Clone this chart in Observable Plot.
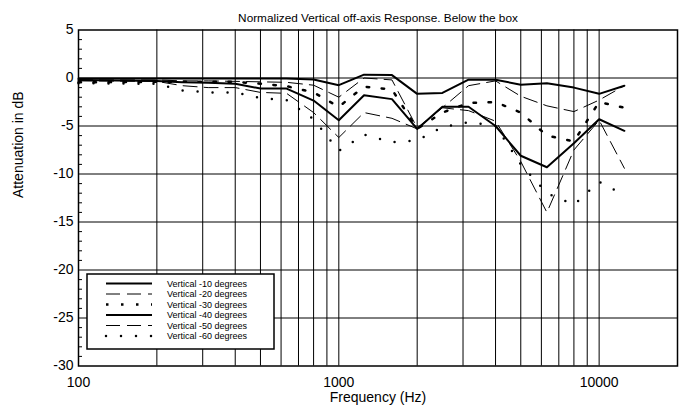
<!DOCTYPE html>
<html><head><meta charset="utf-8">
<script src="https://cdn.jsdelivr.net/npm/d3@7"></script>
<script src="https://cdn.jsdelivr.net/npm/@observablehq/plot@0.6"></script>
<style>
body{margin:0;background:#fff;}
#chart svg{display:block;font-family:"Liberation Sans",Arial,Helvetica,sans-serif;}
</style>
</head><body><div id="chart"></div>
<script>
const titleText = "Normalized Vertical off-axis Response. Below the box";
const xLabel = "Frequency (Hz)";
const yLabel = "Attenuation in dB";
const freqs = [100, 200, 250, 315, 400, 500, 630, 800, 1000, 1250, 1600, 2000, 2500, 3150, 4000, 5000, 6300, 8000, 10000, 12500];
const seriesNames = ["Vertical -10 degrees", "Vertical -20 degrees", "Vertical -30 degrees", "Vertical -40 degrees", "Vertical -50 degrees", "Vertical -60 degrees"];
const v10 = [-0.05, -0.05, -0.05, -0.05, -0.05, -0.05, -0.05, -0.15, -0.75, 0.35, 0.3, -1.65, -1.55, -0.18, -0.18, -0.7, -0.55, -1.0, -1.65, -0.8];
const v20 = [-0.2, -0.2, -0.3, -0.3, -0.35, -0.4, -0.45, -0.75, -2.0, 0.0, -0.2, -5.2, -3.1, -0.8, -0.3, -1.9, -2.9, -3.5, -2.3, -0.8];
const v30 = [-0.45, -0.4, -0.4, -0.4, -0.4, -0.6, -0.85, -1.5, -3.0, -0.9, -1.2, -5.3, -3.6, -2.6, -2.5, -3.6, -6.0, -6.6, -2.5, -3.1];
const v40 = [-0.2, -0.3, -0.45, -0.5, -0.6, -1.1, -1.1, -2.35, -4.4, -1.8, -2.2, -5.3, -3.0, -3.0, -5.0, -8.1, -9.3, -6.8, -4.3, -5.5];
const v50 = [-0.3, -0.35, -0.8, -1.0, -1.0, -1.5, -1.6, -3.6, -6.2, -3.6, -4.2, -5.3, -3.1, -3.4, -4.5, -8.7, -14.0, -7.5, -4.4, -9.4];
const v60 = [-0.55, -0.6, -1.3, -1.5, -1.5, -2.1, -2.3, -4.3, -7.6, -5.9, -6.7, -6.5, -5.1, -4.6, -5.0, -9.0, -12.0, -13.2, -10.8, -12.2];
const xTicks = [100, 1000, 10000];
const yTicks = [-30, -25, -20, -15, -10, -5, 0, 5];
const gridFreqs = [200, 300, 400, 500, 600, 700, 800, 900, 1000, 2000, 3000, 4000, 5000, 6000, 7000, 8000, 9000, 10000];
const gridDb = [-25, -20, -15, -10, -5, 0];
const minorDb = [-29,-28,-27,-26,-24,-23,-22,-21,-19,-18,-17,-16,-14,-13,-12,-11,-9,-8,-7,-6,-4,-3,-2,-1,1,2,3,4];

const styles = [
  {strokeWidth: 2},
  {strokeWidth: 1, strokeDasharray: "14,7"},
  {strokeWidth: 2.5, strokeDasharray: "2.5,12.5"},
  {strokeWidth: 2},
  {strokeWidth: 1, strokeDasharray: "14,7"},
  {strokeWidth: 2.5, strokeDasharray: "0,15", strokeLinecap: "round"}
];
const values = [v10, v20, v30, v40, v50, v60];
const tables = values.map((vals, i) => freqs.map((f, j) => ({f, db: vals[j], s: seriesNames[i]})));

const fmt = d => String(d);
const svg = Plot.plot({
  width: 684, height: 412,
  marginLeft: 78, marginRight: 7, marginTop: 29.5, marginBottom: 46.5,
  style: {fontFamily: '"Liberation Sans", Arial, sans-serif', fontSize: "14px", color: "black", background: "white", overflow: "visible"},
  x: {type: "log", domain: [100, 20000]},
  y: {domain: [-30, 5]},
  marks: [
    Plot.ruleX(gridFreqs, {stroke: "black", strokeWidth: 1}),
    Plot.ruleY(gridDb, {stroke: "black", strokeWidth: 1}),
    ...tables.map((t, i) => Plot.line(t, {x: "f", y: "db", stroke: "black", ...styles[i]})),
    Plot.axisX(xTicks, {tickSize: 0, tickPadding: 11, fontSize: 14, tickFormat: fmt, label: null}),
    Plot.axisY(yTicks, {tickSize: 0, tickPadding: 5, fontSize: 14, tickFormat: fmt, label: null}),
    Plot.axisY(minorDb, {tickSize: 4, dx: 4, tickFormat: () => "", label: null, strokeWidth: 1}),
    Plot.frame({stroke: "black", strokeWidth: 1.5}),
    Plot.text([titleText], {frameAnchor: "top", dy: -16.5, fontSize: 11.8}),
    Plot.text([xLabel], {frameAnchor: "bottom", dy: 36, fontSize: 14}),
    Plot.text([yLabel], {frameAnchor: "left", dx: -60, rotate: -90, fontSize: 14})
  ]
});
document.getElementById("chart").appendChild(svg);

// legend box inside the plot area
const lg = d3.select(svg).append("g")
  .attr("font-family", '"Liberation Sans", Arial, sans-serif')
  .attr("text-anchor", "start");
lg.append("rect").attr("x", 87).attr("y", 274).attr("width", 187).attr("height", 75)
  .attr("fill", "white").attr("stroke", "black").attr("stroke-width", 1.5);
seriesNames.forEach((name, i) => {
  const y = 283.5 + i * 10.5;
  const st = styles[i];
  lg.append("line").attr("x1", 106).attr("x2", 152).attr("y1", y).attr("y2", y)
    .attr("stroke", "black").attr("stroke-width", st.strokeWidth)
    .attr("stroke-dasharray", st.strokeDasharray || null)
    .attr("stroke-linecap", st.strokeLinecap || null);
  lg.append("text").attr("x", 167).attr("y", y).attr("dy", "0.35em")
    .attr("text-anchor", "start").attr("font-size", 9).text(name);
});
</script>
</body></html>
